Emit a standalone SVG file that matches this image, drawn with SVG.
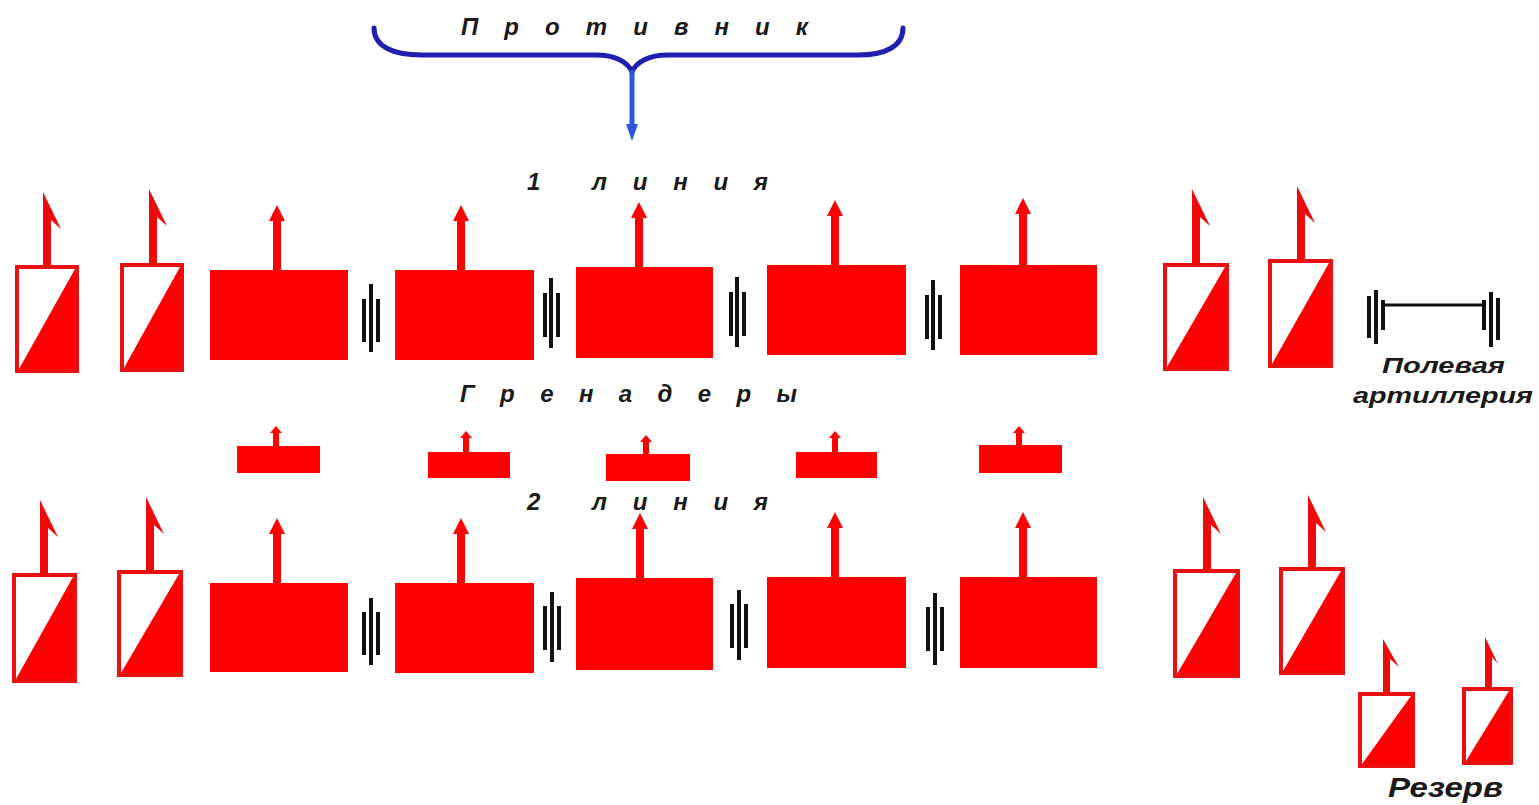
<svg xmlns="http://www.w3.org/2000/svg" width="1539" height="805" viewBox="0 0 1539 805">
<style>
.inf{fill:#ff0000}
.cav-box{fill:#ffffff;stroke:#e81010;stroke-width:4}
.cav-fill{fill:#ff0000}
.flag{fill:#ee0a0a}
.art{stroke:#111;stroke-width:4;fill:none}
.lbl{font-family:"Liberation Sans",Arial,sans-serif;font-weight:bold;font-style:italic;fill:#1a1a1a}
.head{font-size:24px}
.brace{fill:none;stroke:#1f1fb0;stroke-width:5;stroke-linecap:round;stroke-linejoin:round}
</style>
<rect width="1539" height="805" fill="#ffffff"/>

<!-- Enemy brace -->
<g id="enemy">
<text class="lbl head" x="461" y="35" textLength="347" lengthAdjust="spacing">П р о т и в н и к</text>
</g>
<g id="connectors">
<path class="brace" d="M374,28 C374,46 392,55 422,55 L596,55 C615,55 628,62 632,72 C636,62 649,55 668,55 L858,55 C886,55 903,46 903,28"/>
<line x1="632" y1="70" x2="632" y2="128" stroke="#2c55e0" stroke-width="5"/>
<polygon points="626,124 638,124 632,141" fill="#2c55e0"/>
</g>

<!-- Labels -->
<g id="line1-label">
<text class="lbl head" x="527" y="190">1</text>
<text class="lbl head" x="592" y="190" textLength="176" lengthAdjust="spacing">л и н и я</text>
</g>
<g id="grenadiers-label">
<text class="lbl head" x="460" y="402" textLength="337" lengthAdjust="spacing">Г р е н а д е р ы</text>
</g>
<g id="line2-label">
<text class="lbl head" x="527" y="510">2</text>
<text class="lbl head" x="592" y="510" textLength="176" lengthAdjust="spacing">л и н и я</text>
</g>
<g id="artillery-label">
<text class="lbl" x="1382" y="373" font-size="22" textLength="123" lengthAdjust="spacingAndGlyphs">Полевая</text>
<text class="lbl" x="1353" y="403" font-size="22" textLength="180" lengthAdjust="spacingAndGlyphs">артиллерия</text>
</g>
<g id="reserve-label">
<text class="lbl" x="1388" y="797" font-size="28" textLength="115" lengthAdjust="spacingAndGlyphs">Резерв</text>
</g>

<!-- Line 1 cavalry -->
<g id="cav1-1"><rect class="cav-box" x="17" y="267" width="60" height="104"/><polygon class="cav-fill" points="19,369 75,269 75,369"/><polygon class="flag" points="43,267 43,192 61,229 51,220 51,267"/></g>
<g id="cav1-2"><rect class="cav-box" x="122" y="265" width="60" height="105"/><polygon class="cav-fill" points="124,368 180,267 180,368"/><polygon class="flag" points="149,265 149,189 167,226 157,217 157,265"/></g>
<g id="cav1-3"><rect class="cav-box" x="1165" y="265" width="62" height="104"/><polygon class="cav-fill" points="1167,367 1225,267 1225,367"/><polygon class="flag" points="1192,265 1192,189 1210,226 1200,217 1200,265"/></g>
<g id="cav1-4"><rect class="cav-box" x="1270" y="261" width="61" height="105"/><polygon class="cav-fill" points="1272,364 1329,263 1329,364"/><polygon class="flag" points="1297,261 1297,186 1315,223 1305,214 1305,261"/></g>

<!-- Line 1 infantry -->
<g id="inf1-1"><rect class="inf" x="210" y="270" width="138" height="90"/><polygon class="inf" points="273,272 273,221 269,221 277,205 285,221 281,221 281,272"/></g>
<g id="inf1-2"><rect class="inf" x="395" y="270" width="139" height="90"/><polygon class="inf" points="457,272 457,221 453,221 461,205 469,221 465,221 465,272"/></g>
<g id="inf1-3"><rect class="inf" x="576" y="267" width="137" height="91"/><polygon class="inf" points="635,269 635,218 631,218 639,202 647,218 643,218 643,269"/></g>
<g id="inf1-4"><rect class="inf" x="767" y="265" width="139" height="90"/><polygon class="inf" points="831,267 831,216 827,216 835,200 843,216 839,216 839,267"/></g>
<g id="inf1-5"><rect class="inf" x="960" y="265" width="137" height="90"/><polygon class="inf" points="1019,267 1019,214 1015,214 1023,198 1031,214 1027,214 1027,267"/></g>

<!-- Line 1 battalion guns -->
<g id="gun1-1"><line class="art" x1="364" y1="299" x2="364" y2="342"/><line class="art" x1="371" y1="284" x2="371" y2="352"/><line class="art" x1="378" y1="299" x2="378" y2="342"/></g>
<g id="gun1-2"><line class="art" x1="545" y1="293" x2="545" y2="337"/><line class="art" x1="551" y1="278" x2="551" y2="348"/><line class="art" x1="558" y1="293" x2="558" y2="337"/></g>
<g id="gun1-3"><line class="art" x1="731" y1="292" x2="731" y2="336"/><line class="art" x1="737" y1="277" x2="737" y2="347"/><line class="art" x1="744" y1="292" x2="744" y2="336"/></g>
<g id="gun1-4"><line class="art" x1="927" y1="295" x2="927" y2="339"/><line class="art" x1="933" y1="280" x2="933" y2="350"/><line class="art" x1="940" y1="295" x2="940" y2="339"/></g>

<!-- Field artillery -->
<g id="field-artillery">
<line class="art" x1="1369" y1="296" x2="1369" y2="338"/><line class="art" x1="1376" y1="290" x2="1376" y2="344"/><line class="art" x1="1383" y1="300" x2="1383" y2="330"/>
<line x1="1383" y1="305" x2="1484" y2="305" stroke="#111" stroke-width="3"/>
<line class="art" x1="1484" y1="300" x2="1484" y2="330"/><line class="art" x1="1491" y1="292" x2="1491" y2="347"/><line class="art" x1="1498" y1="298" x2="1498" y2="340"/>
</g>

<!-- Grenadiers -->
<g id="gren-1"><rect class="inf" x="237" y="446" width="83" height="27"/><polygon class="inf" points="273,447 273,433 270,433 276,426 282,433 279,433 279,447"/></g>
<g id="gren-2"><rect class="inf" x="428" y="452" width="82" height="26"/><polygon class="inf" points="463,453 463,438 460,438 466,431 472,438 469,438 469,453"/></g>
<g id="gren-3"><rect class="inf" x="606" y="454" width="84" height="27"/><polygon class="inf" points="643,455 643,442 640,442 646,435 652,442 649,442 649,455"/></g>
<g id="gren-4"><rect class="inf" x="796" y="452" width="81" height="26"/><polygon class="inf" points="832,453 832,438 829,438 835,431 841,438 838,438 838,453"/></g>
<g id="gren-5"><rect class="inf" x="979" y="445" width="83" height="28"/><polygon class="inf" points="1016,446 1016,433 1013,433 1019,426 1025,433 1022,433 1022,446"/></g>

<!-- Line 2 cavalry -->
<g id="cav2-1"><rect class="cav-box" x="14" y="575" width="61" height="106"/><polygon class="cav-fill" points="16,679 73,577 73,679"/><polygon class="flag" points="40,575 40,500 58,537 48,528 48,575"/></g>
<g id="cav2-2"><rect class="cav-box" x="119" y="572" width="62" height="103"/><polygon class="cav-fill" points="121,673 179,574 179,673"/><polygon class="flag" points="146,572 146,497 164,534 154,525 154,572"/></g>
<g id="cav2-3"><rect class="cav-box" x="1175" y="571" width="63" height="105"/><polygon class="cav-fill" points="1177,674 1236,573 1236,674"/><polygon class="flag" points="1203,571 1203,497 1221,534 1211,525 1211,571"/></g>
<g id="cav2-4"><rect class="cav-box" x="1281" y="569" width="62" height="104"/><polygon class="cav-fill" points="1283,671 1341,571 1341,671"/><polygon class="flag" points="1308,569 1308,495 1326,532 1316,523 1316,569"/></g>

<!-- Line 2 infantry -->
<g id="inf2-1"><rect class="inf" x="210" y="583" width="138" height="89"/><polygon class="inf" points="273,585 273,534 269,534 277,518 285,534 281,534 281,585"/></g>
<g id="inf2-2"><rect class="inf" x="395" y="583" width="139" height="90"/><polygon class="inf" points="457,585 457,534 453,534 461,518 469,534 465,534 465,585"/></g>
<g id="inf2-3"><rect class="inf" x="576" y="578" width="137" height="92"/><polygon class="inf" points="636,580 636,529 632,529 640,513 648,529 644,529 644,580"/></g>
<g id="inf2-4"><rect class="inf" x="767" y="577" width="139" height="91"/><polygon class="inf" points="831,579 831,528 827,528 835,512 843,528 839,528 839,579"/></g>
<g id="inf2-5"><rect class="inf" x="960" y="577" width="137" height="91"/><polygon class="inf" points="1019,579 1019,528 1015,528 1023,512 1031,528 1027,528 1027,579"/></g>

<!-- Line 2 battalion guns -->
<g id="gun2-1"><line class="art" x1="364" y1="612" x2="364" y2="655"/><line class="art" x1="371" y1="598" x2="371" y2="665"/><line class="art" x1="378" y1="612" x2="378" y2="655"/></g>
<g id="gun2-2"><line class="art" x1="545" y1="606" x2="545" y2="650"/><line class="art" x1="552" y1="592" x2="552" y2="662"/><line class="art" x1="559" y1="606" x2="559" y2="650"/></g>
<g id="gun2-3"><line class="art" x1="732" y1="604" x2="732" y2="648"/><line class="art" x1="739" y1="590" x2="739" y2="660"/><line class="art" x1="746" y1="604" x2="746" y2="648"/></g>
<g id="gun2-4"><line class="art" x1="928" y1="607" x2="928" y2="651"/><line class="art" x1="935" y1="593" x2="935" y2="665"/><line class="art" x1="942" y1="607" x2="942" y2="651"/></g>

<!-- Reserve -->
<g id="reserve-1"><rect class="cav-box" x="1360" y="694" width="53" height="72"/><polygon class="cav-fill" points="1362,764 1411,696 1411,764"/><polygon class="flag" points="1383,694 1383,639 1399,667 1390,659 1390,694"/></g>
<g id="reserve-2"><rect class="cav-box" x="1464" y="689" width="47" height="74"/><polygon class="cav-fill" points="1466,761 1509,691 1509,761"/><polygon class="flag" points="1485,689 1485,637 1498,664 1492,657 1492,689"/></g>
</svg>
